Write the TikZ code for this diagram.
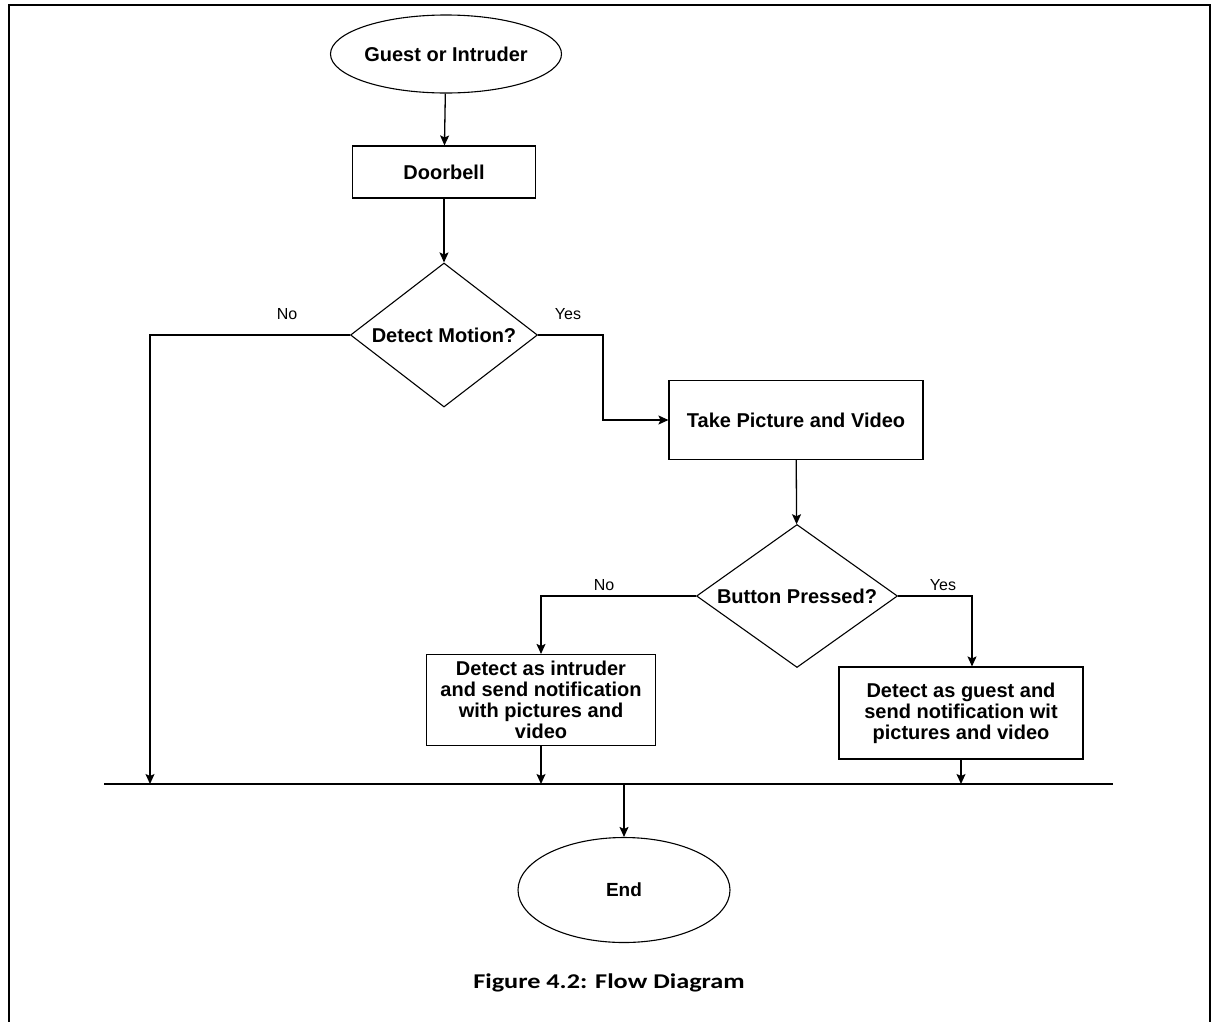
\documentclass[tikz,border=0pt]{standalone}
\usepackage{fontspec}
\setmainfont{Liberation Sans}
\newfontfamily\capfont{Carlito}
\usepackage{tikz}
\usetikzlibrary{shapes.geometric,arrows.meta}

\tikzset{
  flowtext/.style={font=\fontsize{20}{21}\selectfont\bfseries, align=center},
  startstop/.style={ellipse, draw, line width=1.1pt, inner sep=0pt, flowtext},
  process/.style={rectangle, draw, line width=1.1pt, inner sep=0pt, flowtext},
  decision/.style={diamond, draw, line width=1.1pt, inner sep=0pt},
  flowarrow/.style={line width=1.3pt, -{Stealth[length=10pt,width=9pt,inset=2pt]}},
  branch/.style={font=\fontsize{16}{18}\selectfont}
}

\begin{document}
\begin{tikzpicture}[x=1pt,y=-1pt]
\useasboundingbox (0,0) rectangle (1212,1021);
\begin{scope}
\clip (0,0) rectangle (1212,1021);
\draw[line width=2.5pt] (9,5) rectangle (1210,1040);
\end{scope}
%
\node[startstop, minimum width=206pt, minimum height=78pt] (guest) at (446,54) {Guest or Intruder};
\node[process, minimum width=183pt, minimum height=52pt] (doorbell) at (444,172) {Doorbell};
\node[decision, minimum width=187pt, minimum height=144pt,
      label={[flowtext]center:Detect Motion?}] (motion) at (444,335) {};
\node[process, minimum width=254pt, minimum height=79pt] (takepic) at (796,420) {Take Picture and Video};
\node[decision, minimum width=201pt, minimum height=143pt,
      label={[flowtext]center:Button Pressed?}] (button) at (797,596) {};
\node[process, minimum width=229pt, minimum height=91pt] (intruder) at (541,700)
  {Detect as intruder\\and send notification\\with pictures and\\video};
\node[process, minimum width=244pt, minimum height=92pt] (guestbox) at (961,713)
  {Detect as guest and\\send notification wit\\pictures and video};
\node[startstop, font=\fontsize{19}{21}\selectfont\bfseries, minimum width=212pt, minimum height=105pt] (endnode) at (624,890) {End};
%
\coordinate (barleft) at (104,784);
\coordinate (barright) at (1113,784);
\coordinate (nodrop) at (150,784);
\coordinate (yesturn) at (603,335);
\coordinate (yesdrop) at (972,596);
\coordinate (enddrop) at (624,784);
%
\draw[flowarrow] (guest) -- (doorbell);
\draw[flowarrow] (doorbell) -- (motion);
\draw[flowarrow] (motion.west) -| (nodrop);
\draw[flowarrow] (motion.east) -- (yesturn) |- (takepic.west);
\draw[flowarrow] (takepic) -- (button);
\draw[flowarrow] (button.west) -| (intruder.north);
\draw[flowarrow] (button.east) -- (yesdrop) -- (yesdrop |- guestbox.north);
\draw[flowarrow] (intruder.south) -- (intruder.south |- barleft);
\draw[flowarrow] (guestbox.south) -- (guestbox.south |- barleft);
\draw[line width=1.5pt] (barleft) -- (barright);
\draw[flowarrow] (enddrop) -- (endnode.north);
%
\node[branch] (nomotion) at (287,314) {No};
\node[branch] (yesmotion) at (568,314) {Yes};
\node[branch] (nobutton) at (604,585) {No};
\node[branch] (yesbutton) at (943,585) {Yes};
%
\node[font=\capfont\fontsize{21}{24}\selectfont\bfseries] (caption) at (609,983)
  {\scalebox{1.25}[1]{Figure 4.2: Flow Diagram}};
\end{tikzpicture}
\end{document}
